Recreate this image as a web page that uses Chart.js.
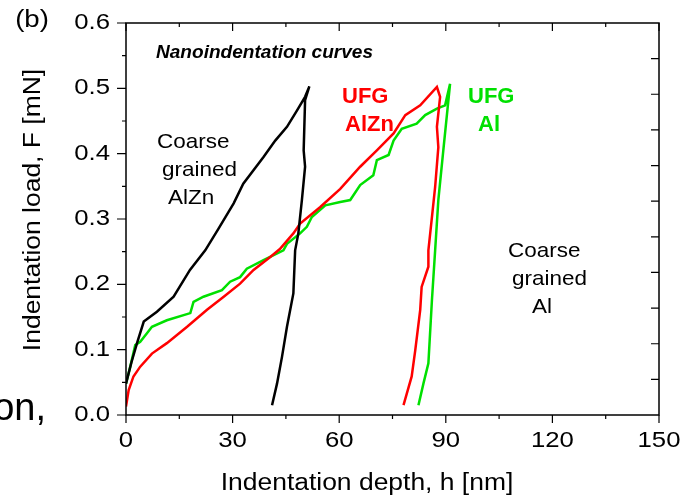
<!DOCTYPE html>
<html>
<head>
<meta charset="utf-8">
<script src="https://cdn.jsdelivr.net/npm/chart.js@4.4.1/dist/chart.umd.min.js"></script>
<style>
  body { margin: 0; background: #fff; }
  #wrap { width: 681px; height: 495px; position: relative; }
</style>
</head>
<body>
<div id="wrap"><canvas id="nano"></canvas></div>
<script>
// axis ranges / ticks
const x_ticks = [0, 30, 60, 90, 120, 150];
const y_ticks = [0.0, 0.1, 0.2, 0.3, 0.4, 0.5, 0.6];

// [depth nm, load mN]
const coarse_alzn = [
  [0, 0.048], [1.5, 0.08], [3.1, 0.11], [5, 0.143], [8.7, 0.158], [13.4, 0.181],
  [18, 0.222], [22.3, 0.252], [26, 0.285], [30.3, 0.324], [33, 0.354], [38.7, 0.395],
  [42, 0.42], [45.3, 0.441], [48.1, 0.466], [50.4, 0.487], [51.6, 0.503],
  [50.4, 0.482], [50, 0.405], [50.4, 0.38], [49.5, 0.329], [48.5, 0.278],
  [47.6, 0.252], [47.1, 0.186], [45.3, 0.135], [43.9, 0.089], [42.5, 0.048], [41.1, 0.015],
];

const ufg_alzn = [
  [0, 0.013], [0.75, 0.038], [2.1, 0.059], [4, 0.074], [7.3, 0.094], [11.5, 0.11],
  [17.2, 0.135], [22.8, 0.161], [27.5, 0.181], [32.1, 0.201], [35.9, 0.222], [40.6, 0.242],
  [43.3, 0.254], [47.1, 0.278], [49, 0.293], [54.6, 0.318], [60.3, 0.346], [65.9, 0.38],
  [70.6, 0.405], [75.3, 0.431], [78.6, 0.459], [82.8, 0.474], [87.5, 0.502],
  [88.4, 0.487], [87.5, 0.441], [87.9, 0.41], [87, 0.349], [86.1, 0.303], [85.1, 0.252],
  [85.1, 0.227], [83.2, 0.196], [82.8, 0.161], [81.4, 0.099], [80.4, 0.059], [78.1, 0.015],
];

const ufg_al = [
  [0, 0.048], [1.2, 0.074], [2.6, 0.107], [4, 0.112], [5.9, 0.125], [7.3, 0.135],
  [11.5, 0.145], [18.1, 0.156], [19, 0.173], [21.8, 0.181], [27, 0.191], [29.3, 0.204],
  [32.1, 0.211], [34, 0.224], [38.7, 0.237], [44.3, 0.252], [45.3, 0.262], [49, 0.278],
  [50.9, 0.288], [52.3, 0.303], [56.1, 0.321], [60.3, 0.326], [63.1, 0.329], [65.9, 0.352],
  [69.6, 0.367], [70.6, 0.39], [73.9, 0.398], [75.3, 0.42], [77.6, 0.438], [81.8, 0.446],
  [84.2, 0.459], [87.5, 0.469], [89.8, 0.474], [91.2, 0.507],
  [89.3, 0.405], [87.9, 0.329], [87, 0.252], [86.1, 0.176], [85.1, 0.079], [83.7, 0.048], [82.3, 0.015],
];

const FONT = '"Liberation Sans", Arial, sans-serif';

function txt(ctx, s, x, y, o) {
  ctx.save();
  ctx.font = o.font;
  ctx.fillStyle = o.color || "#000";
  ctx.textAlign = o.align || "left";
  ctx.textBaseline = o.base || "alphabetic";
  ctx.translate(x, y);
  if (o.rot) ctx.rotate(o.rot);
  ctx.scale(o.sx || 1, 1);
  ctx.fillText(s, 0, 0);
  ctx.restore();
}

function toPts(arr) {
  return arr.map((p) => ({ x: p[0], y: p[1] }));
}

const decor = {
  id: "decor",
  afterDraw(chart) {
    const ctx = chart.ctx;
    const a = chart.chartArea;
    const xs = chart.scales.x;
    const ys = chart.scales.y;

    ctx.save();
    ctx.strokeStyle = "#000";
    ctx.lineWidth = 1.5;
    ctx.strokeRect(a.left, a.top, a.right - a.left, a.bottom - a.top);

    ctx.lineWidth = 1.2;
    ctx.beginPath();
    // bottom (outward) + top (inward), every 15 nm
    for (let v = 0; v <= 150; v += 15) {
      const px = xs.getPixelForValue(v);
      const len = v % 30 === 0 ? 8 : 4;
      ctx.moveTo(px, a.bottom);
      ctx.lineTo(px, a.bottom + len);
      ctx.moveTo(px, a.top);
      ctx.lineTo(px, a.top + len);
    }
    // left (outward), every 0.05
    for (let i = 0; i <= 12; i++) {
      const py = ys.getPixelForValue(i * 0.05);
      const len = i % 2 === 0 ? 9 : 4;
      ctx.moveTo(a.left, py);
      ctx.lineTo(a.left - len, py);
    }
    // right side ticks (inward) – spacing differs from the left in the original
    for (let i = 1; i < 11; i++) {
      const py = a.top + ((a.bottom - a.top) * i) / 11;
      ctx.moveTo(a.right, py);
      ctx.lineTo(a.right - 8, py);
    }
    ctx.stroke();
    ctx.restore();

    // tick labels
    const tickFont = "22px " + FONT;
    x_ticks.forEach((v) => {
      txt(ctx, String(v), xs.getPixelForValue(v), 441, { font: tickFont, align: "center", base: "middle", sx: 1.17 });
    });
    y_ticks.forEach((v) => {
      txt(ctx, v.toFixed(1), 110, ys.getPixelForValue(v), { font: tickFont, align: "right", base: "middle", sx: 1.17 });
    });

    // axis titles
    const titleFont = "23px " + FONT;
    txt(ctx, "Indentation depth, h [nm]", 367, 490, { font: titleFont, align: "center", sx: 1.15 });
    txt(ctx, "Indentation load, F [mN]", 40, 210, { font: titleFont, align: "center", rot: -Math.PI / 2, sx: 1.15 });

    // panel letter and cut-off word from the neighbouring panel
    txt(ctx, "(b)", 32, 27, { font: "23px " + FONT, align: "center", sx: 1.2 });
    txt(ctx, "on,", 46, 420, { font: "38px " + FONT, align: "right" });

    // annotations
    txt(ctx, "Nanoindentation curves", 156, 58, { font: "italic bold 18.5px " + FONT, sx: 1.03 });

    const ann = "21px " + FONT;
    txt(ctx, "Coarse", 157, 148, { font: ann, sx: 1.07 });
    txt(ctx, "grained", 162, 176, { font: ann, sx: 1.07 });
    txt(ctx, "AlZn", 168, 204, { font: ann, sx: 1.07 });

    txt(ctx, "Coarse", 508, 257, { font: ann, sx: 1.07 });
    txt(ctx, "grained", 512, 285, { font: ann, sx: 1.07 });
    txt(ctx, "Al", 532, 313, { font: ann, sx: 1.07 });

    const bold = "bold 22px " + FONT;
    txt(ctx, "UFG", 342, 103, { font: bold, color: "#ff0000" });
    txt(ctx, "AlZn", 345, 131, { font: bold, color: "#ff0000" });
    txt(ctx, "UFG", 468, 103, { font: bold, color: "#00e000" });
    txt(ctx, "Al", 478, 131, { font: bold, color: "#00e000" });
  },
};

new Chart(document.getElementById("nano"), {
  type: "scatter",
  data: {
    datasets: [
      { label: "Coarse grained AlZn", data: toPts(coarse_alzn), borderColor: "#000000" },
      { label: "UFG AlZn", data: toPts(ufg_alzn), borderColor: "#ff0000" },
      { label: "UFG Al", data: toPts(ufg_al), borderColor: "#00e000" },
    ].map((d) => ({ ...d, showLine: true, pointRadius: 0, borderWidth: 2.5, tension: 0, fill: false })),
  },
  options: {
    responsive: true,
    maintainAspectRatio: false,
    animation: false,
    layout: { padding: { top: 23, right: 22, left: 0, bottom: 0 } },
    plugins: { legend: { display: false }, tooltip: { enabled: false } },
    scales: {
      x: {
        type: "linear",
        min: 0,
        max: 150,
        ticks: { display: false, stepSize: 30 },
        grid: { display: false },
        border: { display: false },
        afterFit: (s) => { s.height = 80; },
      },
      y: {
        type: "linear",
        min: 0,
        max: 0.6,
        ticks: { display: false, stepSize: 0.1 },
        grid: { display: false },
        border: { display: false },
        afterFit: (s) => { s.width = 126; },
      },
    },
  },
  plugins: [decor],
});
</script>
</body>
</html>
